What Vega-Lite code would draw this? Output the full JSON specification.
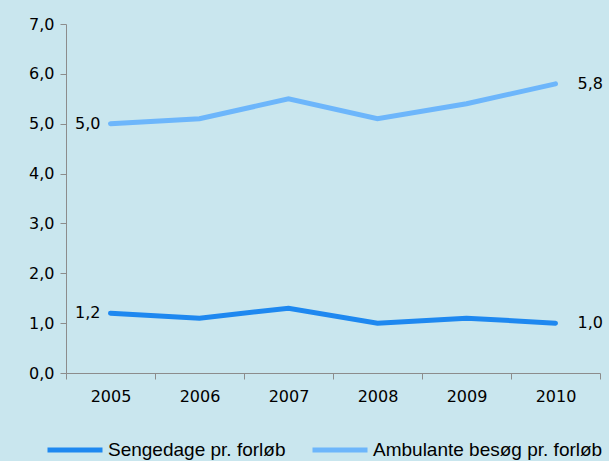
{
  "$schema": "https://vega.github.io/schema/vega-lite/v6.json",
  "width": 534,
  "height": 349,
  "autosize": {"type": "none"},
  "padding": {"left": 66, "top": 24, "right": 9, "bottom": 88},
  "background": "#C9E6EE",
  "config": {
    "view": {"stroke": null},
    "locale": {"number": {"decimal": ",", "thousands": ".", "grouping": [3], "currency": ["", " kr"]}},
    "font": "DejaVu Sans"
  },
  "data": {
    "values": [
      {"year": "2005", "serie": "Sengedage pr. forløb", "value": 1.2},
      {"year": "2006", "serie": "Sengedage pr. forløb", "value": 1.1},
      {"year": "2007", "serie": "Sengedage pr. forløb", "value": 1.3},
      {"year": "2008", "serie": "Sengedage pr. forløb", "value": 1.0},
      {"year": "2009", "serie": "Sengedage pr. forløb", "value": 1.1},
      {"year": "2010", "serie": "Sengedage pr. forløb", "value": 1.0},
      {"year": "2005", "serie": "Ambulante besøg pr. forløb", "value": 5.0},
      {"year": "2006", "serie": "Ambulante besøg pr. forløb", "value": 5.1},
      {"year": "2007", "serie": "Ambulante besøg pr. forløb", "value": 5.5},
      {"year": "2008", "serie": "Ambulante besøg pr. forløb", "value": 5.1},
      {"year": "2009", "serie": "Ambulante besøg pr. forløb", "value": 5.4},
      {"year": "2010", "serie": "Ambulante besøg pr. forløb", "value": 5.8}
    ]
  },
  "encoding": {
    "x": {
      "field": "year", "type": "ordinal", "bandPosition": 0.5,
      "scale": {"type": "band", "paddingInner": 0, "paddingOuter": 0},
      "axis": {"title": null, "labelAngle": 0, "tickBand": "extent", "domainColor": "#8C8C8C", "tickColor": "#8C8C8C", "tickSize": 6, "labelFontSize": 16, "labelColor": "#000", "labelPadding": 9, "labelFont": "DejaVu Sans"}
    },
    "y": {
      "field": "value", "type": "quantitative",
      "scale": {"domain": [0, 7]},
      "axis": {"title": null, "values": [0,1,2,3,4,5,6,7], "format": ".1f", "grid": false, "domainColor": "#8C8C8C", "tickColor": "#8C8C8C", "tickSize": 6, "labelFontSize": 16, "labelColor": "#000", "labelPadding": 6}
    }
  },
  "layer": [
    {
      "mark": {"type": "line", "strokeWidth": 5, "strokeCap": "round"},
      "encoding": {
        "color": {
          "field": "serie", "type": "nominal",
          "scale": {"domain": ["Sengedage pr. forløb", "Ambulante besøg pr. forløb"], "range": ["#1E88F0", "#6DB6FB"]},
          "legend": {"title": null, "orient": "none", "legendX": -21, "legendY": 396, "direction": "horizontal", "columns": 2, "symbolType": "stroke", "symbolSize": 3025, "symbolStrokeWidth": 5, "labelFont": "Liberation Sans", "labelFontSize": 19, "labelLimit": 0, "labelColor": "#000", "columnPadding": 16, "labelOffset": 3}
        }
      }
    },
    {
      "transform": [{"filter": "datum.year == '2005'"}],
      "mark": {"type": "text", "align": "right", "dx": -10, "fontSize": 16, "color": "#000"},
      "encoding": {"text": {"field": "value", "type": "quantitative", "format": ".1f"}}
    },
    {
      "transform": [{"filter": "datum.year == '2010'"}],
      "mark": {"type": "text", "align": "left", "dx": 22, "fontSize": 16, "color": "#000"},
      "encoding": {"text": {"field": "value", "type": "quantitative", "format": ".1f"}}
    }
  ]
}
